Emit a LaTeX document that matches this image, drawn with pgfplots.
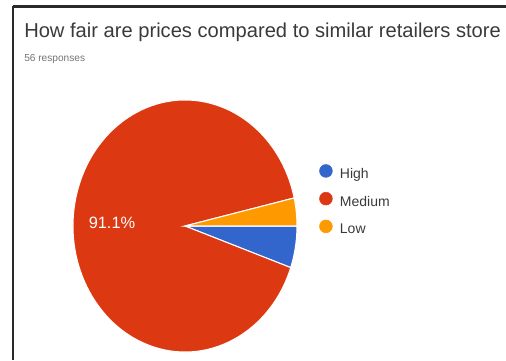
\documentclass[border=0pt]{standalone}
\usepackage{pgfplots}
\usepackage{pgfplotstable}
\pgfplotsset{compat=1.18}
\usepackage{fontspec}
\setmainfont{Liberation Sans}
\definecolor{gHigh}{HTML}{3366CC}
\definecolor{gMed}{HTML}{DC3912}
\definecolor{gLow}{HTML}{FF9900}
\definecolor{gTitle}{HTML}{3A3A3A}
\definecolor{gFrame}{HTML}{2A2A2A}
\definecolor{gSub}{HTML}{757575}
\pgfplotstableread{
label value
High 3
Medium 51
Low 2
}\piedata
\begin{document}
\begin{tikzpicture}
\pgfplotstablegetelem{0}{value}\of\piedata \let\vA\pgfplotsretval
\pgfplotstablegetelem{1}{value}\of\piedata \let\vB\pgfplotsretval
\pgfplotstablegetelem{2}{value}\of\piedata \let\vC\pgfplotsretval
\pgfmathsetmacro{\tot}{\vA+\vB+\vC}
\pgfmathsetmacro{\aA}{-\vA/\tot*360}
\pgfmathsetmacro{\aB}{\aA-\vB/\tot*360}
\pgfmathsetmacro{\aC}{\aB-\vC/\tot*360}
\pgfmathsetmacro{\pB}{\vB/\tot*100}
\begin{axis}[
  width=379.5pt, height=270pt,
  xmin=0, xmax=506, ymin=0, ymax=360,
  scale only axis, hide axis, clip=true,
  legend style={at={(axis cs:319,196)}, anchor=north west, draw=none, fill=none,
    font=\fontsize{10.5}{12}\selectfont, text=gTitle,
    legend cell align=left, inner sep=0pt,
    nodes={inner sep=2pt, text height=8pt, text depth=2.5pt},
    row sep=5.7pt, column sep=3.5pt},
  legend image code/.code={\fill[#1] (0.2cm,0.1cm) circle (4.8pt);},
]
\addlegendimage{gHigh}\addlegendentry{High}
\addlegendimage{gMed}\addlegendentry{Medium}
\addlegendimage{gLow}\addlegendentry{Low}
\fill[white] (axis cs:0,0) rectangle (axis cs:506,360);
\draw[gFrame, line width=1.6pt] (axis cs:13,353.5) -- (axis cs:506,353.5);
\draw[gFrame, line width=1.6pt] (axis cs:13,354.3) -- (axis cs:13,0);
\node[anchor=base west, inner sep=0, text=gTitle, font=\fontsize{15.1}{17}\selectfont]
  at (axis cs:24,322) {How fair are prices compared to similar retailers store};
\node[anchor=base west, inner sep=0, text=gSub, font=\fontsize{7.6}{9}\selectfont]
  at (axis cs:24,298) {56 responses};
\fill[gHigh, draw=white, line width=0.8pt] (axis cs:185,134) -- ++(0:84pt and 94.5pt) arc[start angle=0, end angle=\aA, x radius=84pt, y radius=94.5pt] -- cycle;
\fill[gMed, draw=white, line width=0.8pt] (axis cs:185,134) -- ++(\aA:84pt and 94.5pt) arc[start angle=\aA, end angle=\aB, x radius=84pt, y radius=94.5pt] -- cycle;
\fill[gLow, draw=white, line width=0.8pt] (axis cs:185,134) -- ++(\aB:84pt and 94.5pt) arc[start angle=\aB, end angle=\aC, x radius=84pt, y radius=94.5pt] -- cycle;
\node[text=white, font=\fontsize{12.3}{14}\selectfont] at (axis cs:112,137) {\pgfmathprintnumber[fixed,precision=1,assume math mode=true]{\pB}\%};
\end{axis}
\pgfresetboundingbox
\useasboundingbox (current axis.south west) rectangle (current axis.north east);
\end{tikzpicture}
\end{document}
